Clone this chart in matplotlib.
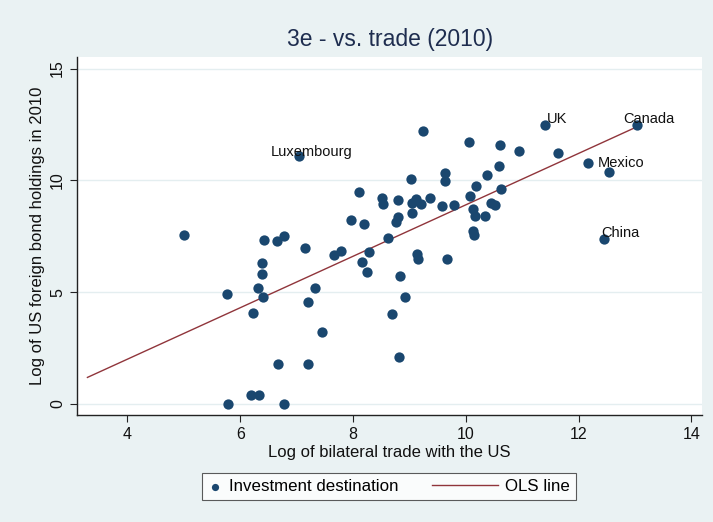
import numpy as np
import matplotlib
matplotlib.use('Agg')
import matplotlib.pyplot as plt
from matplotlib.legend_handler import HandlerLine2D

plt.rcParams['font.family'] = ['Liberation Sans', 'DejaVu Sans']

# log bilateral trade (x) and log US bond holdings (y)
trade = [5.00, 5.76, 5.78, 6.19, 6.22, 6.32, 6.34, 6.38, 6.38, 6.41,
         6.43, 6.65, 6.67, 6.77, 6.77, 7.05, 7.14, 7.20, 7.21, 7.33,
         7.45, 7.67, 7.79, 7.96, 8.11, 8.16, 8.19, 8.24, 8.28, 8.52,
         8.53, 8.62, 8.69, 8.77, 8.79, 8.80, 8.82, 8.83, 8.93, 9.03,
         9.04, 9.05, 9.12, 9.13, 9.16, 9.20, 9.24, 9.37, 9.58, 9.63,
         9.64, 9.66, 9.80, 10.05, 10.08, 10.12, 10.13, 10.15, 10.17, 10.18,
         10.34, 10.38, 10.44, 10.51, 10.59, 10.60, 10.62, 10.95, 11.41, 11.63,
         12.17, 12.46, 12.54, 13.04]
bonds = [7.56, 4.90, 0.00, 0.39, 4.06, 5.17, 0.39, 6.32, 5.81, 4.79,
         7.33, 7.30, 1.80, 7.51, 0.00, 11.08, 6.99, 4.55, 1.80, 5.20,
         3.22, 6.65, 6.83, 8.22, 9.48, 6.37, 8.05, 5.90, 6.80, 9.21,
         8.93, 7.43, 4.03, 8.14, 9.11, 8.35, 2.09, 5.72, 4.80, 10.08,
         9.00, 8.56, 9.15, 6.71, 6.50, 8.94, 12.22, 9.20, 8.86, 10.33,
         9.96, 6.47, 8.91, 11.72, 9.29, 7.74, 8.71, 7.57, 8.41, 9.75,
         8.41, 10.23, 8.98, 8.90, 10.64, 11.57, 9.60, 11.33, 12.46, 11.24,
         10.76, 7.37, 10.39, 12.46]

# labelled countries
lab_names = ['Luxembourg', 'UK', 'Canada', 'Mexico', 'China']
lab_x = [7.05, 11.41, 13.04, 12.17, 12.46]
lab_y = [11.08, 12.46, 12.46, 10.76, 7.37]
lab_offsets = {'Luxembourg': (-21, 0.5), 'UK': (1, 1.5), 'Canada': (-10, 1.5),
               'Mexico': (7, None), 'China': (-2, 1.5)}

# OLS fitted line end points
ols_x = [3.29, 13.04]
ols_y = [1.19, 12.40]

bg = '#EAF2F3'
navy = '#1A476F'
maroon = '#90353B'


class LongLineHandler(HandlerLine2D):
    # stretch the line key to the left, like Stata's longer line keys
    def __init__(self, extra, **kw):
        super().__init__(**kw)
        self.extra = extra

    def create_artists(self, legend, orig_handle, xdescent, ydescent,
                       width, height, fontsize, trans):
        return super().create_artists(legend, orig_handle,
                                      xdescent + self.extra, ydescent,
                                      width + self.extra, height,
                                      fontsize, trans)


fig = plt.figure(figsize=(7.13, 5.22), dpi=100, facecolor=bg)
ax = fig.add_axes([0.108, 0.205, 0.877, 0.686])
ax.set_facecolor('white')

ax.scatter(trade, bonds, s=55, color=navy, zorder=3, linewidths=0,
           label='Investment destination')
ols, = ax.plot(ols_x, ols_y, color=maroon, linewidth=1.0, zorder=2,
               label='OLS line')

for name, x, y in zip(lab_names, lab_x, lab_y):
    dx, dy = lab_offsets[name]
    if dy is None:
        ax.annotate(name, (x, y), xytext=(dx, 0), textcoords='offset points',
                    fontsize=10.5, color='#111111', va='center', ha='left',
                    zorder=4)
    else:
        ax.annotate(name, (x, y), xytext=(dx, dy), textcoords='offset points',
                    fontsize=10.5, color='#111111', va='baseline', ha='left',
                    zorder=4)

ax.set_xlim(3.105, 14.195)
ax.set_ylim(-0.49, 15.52)
ax.set_xticks([4, 6, 8, 10, 12, 14])
ax.set_yticks([0, 5, 10, 15])
ax.grid(axis='y', color='#E4EEF0', linewidth=1.0)
ax.set_axisbelow(True)

for s in ['top', 'right']:
    ax.spines[s].set_visible(False)
for s in ['left', 'bottom']:
    ax.spines[s].set_color('#222222')
    ax.spines[s].set_linewidth(1.0)

ax.tick_params(axis='both', direction='out', length=5, width=0.8,
               color='#222222', labelsize=11.5, labelcolor='#111111')
plt.setp(ax.get_yticklabels(), rotation=90, va='center')

ax.set_xlabel('Log of bilateral trade with the US', fontsize=12, color='#111111',
              labelpad=2)
ax.set_ylabel('Log of US foreign bond holdings in 2010', fontsize=12,
              color='#111111', labelpad=4)
ax.set_title('3e - vs. trade (2010)', fontsize=16.5, color='#1E2D4F', pad=8)

leg = fig.legend(loc='center', bbox_to_anchor=(0.546, 0.068), ncol=2,
                 frameon=True, fancybox=False, fontsize=12.2,
                 handlelength=0.8, handletextpad=0.41, columnspacing=5.1,
                 markerscale=0.7, borderpad=0.35, borderaxespad=0,
                 handler_map={ols: LongLineHandler(38)})
leg.get_frame().set_edgecolor('#333333')
leg.get_frame().set_linewidth(0.8)

fig.savefig('out.png', dpi=100, facecolor=bg)
